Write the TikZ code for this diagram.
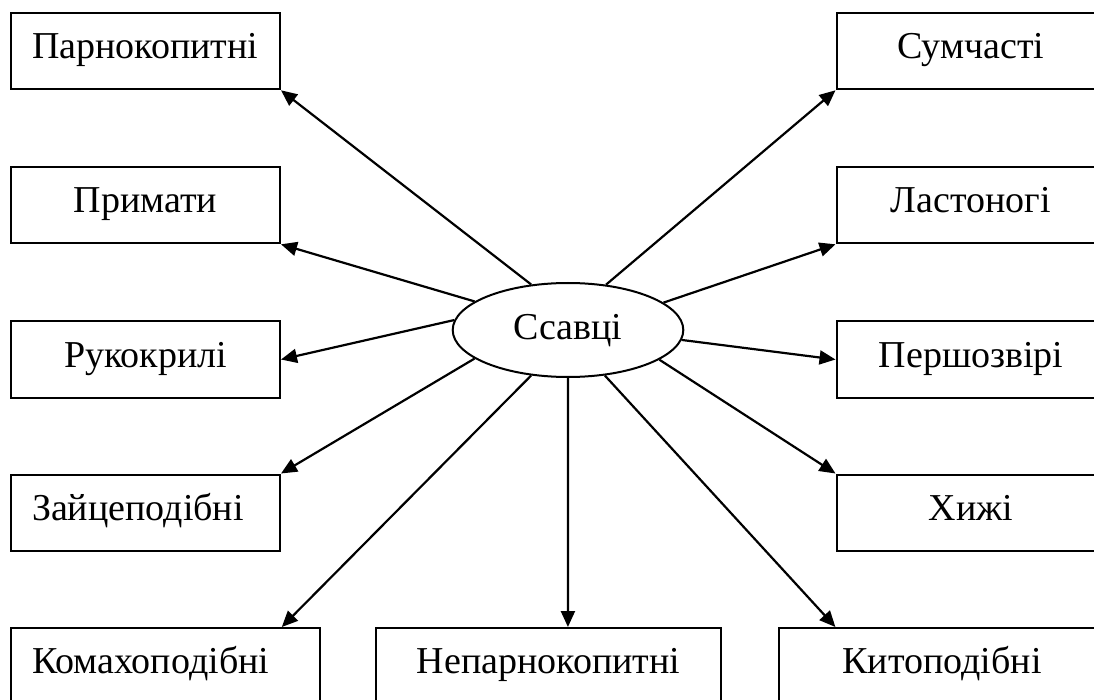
\documentclass[tikz,border=0pt]{standalone}
\usepackage{fontspec}
\setmainfont{Liberation Serif}
\usetikzlibrary{arrows.meta,calc,shapes.geometric}
\begin{document}
\begin{tikzpicture}[x=1pt,y=-1pt,
  box/.style={draw, line width=2pt, rectangle, inner xsep=21pt, inner ysep=0pt,
    text height=45.5pt, text depth=30.5pt, font=\fontsize{38}{45}\selectfont},
  boxc/.style={box, align=center},
  boxl/.style={box, align=left},
  link/.style={line width=2.2pt, -{Triangle[length=16pt,width=14pt]}}
]
\useasboundingbox (0,0) rectangle (1094,700);
\clip (0,0) rectangle (1094,700);

\node[draw, ellipse, line width=2pt, minimum width=230.6pt, minimum height=94pt,
  inner sep=0pt, text height=18pt, text depth=0pt,
  font=\fontsize{38}{45}\selectfont] (ell) at (568,330) {Ссавці};

\node[boxl, text width=227pt] (p1) at (145.5,51.3) {Парнокопитні};
\node[boxc, text width=227pt] (p2) at (145.5,205.3) {Примати};
\node[boxc, text width=227pt] (p3) at (145.5,359.5) {Рукокрилі};
\node[boxl, text width=227pt] (p4) at (145.5,512.5) {Зайцеподібні};

\node[boxc, text width=227pt] (r1) at (971,51.3) {Сумчасті};
\node[boxc, text width=227pt] (r2) at (971,205.3) {Ластоногі};
\node[boxc, text width=227pt] (r3) at (971,359.5) {Першозвірі};
\node[boxc, text width=227pt] (r4) at (971,512.5) {Хижі};

\node[boxl, text width=267pt] (b1) at (165.5,666) {Комахоподібні};
\node[boxc, text width=303pt] (b2) at (548.5,666) {Непарнокопитні};
\node[boxc, text width=284pt] (b3) at (942,666) {Китоподібні};

\draw[link] (ell.129.1) -- (p1.south east);
\draw[link] (ell.163.8) -- (p2.south east);
\draw[link] (ell.175) -- (p3.east);
\draw[link] (ell.197.1) -- (p4.north east);
\draw[link] (ell.231.2) -- ($(b1.north west)!0.874!(b1.north east)$);
\draw[link] (ell.270) -- ($(b2.north west)!0.556!(b2.north east)$);
\draw[link] (ell.309.3) -- ($(b3.north west)!0.175!(b3.north east)$);
\draw[link] (ell.342.9) -- (r4.north west);
\draw[link] (ell.355) -- (r3.west);
\draw[link] (ell.16.5) -- (r2.south west);
\draw[link] (ell.50.4) -- (r1.south west);
\end{tikzpicture}
\end{document}
